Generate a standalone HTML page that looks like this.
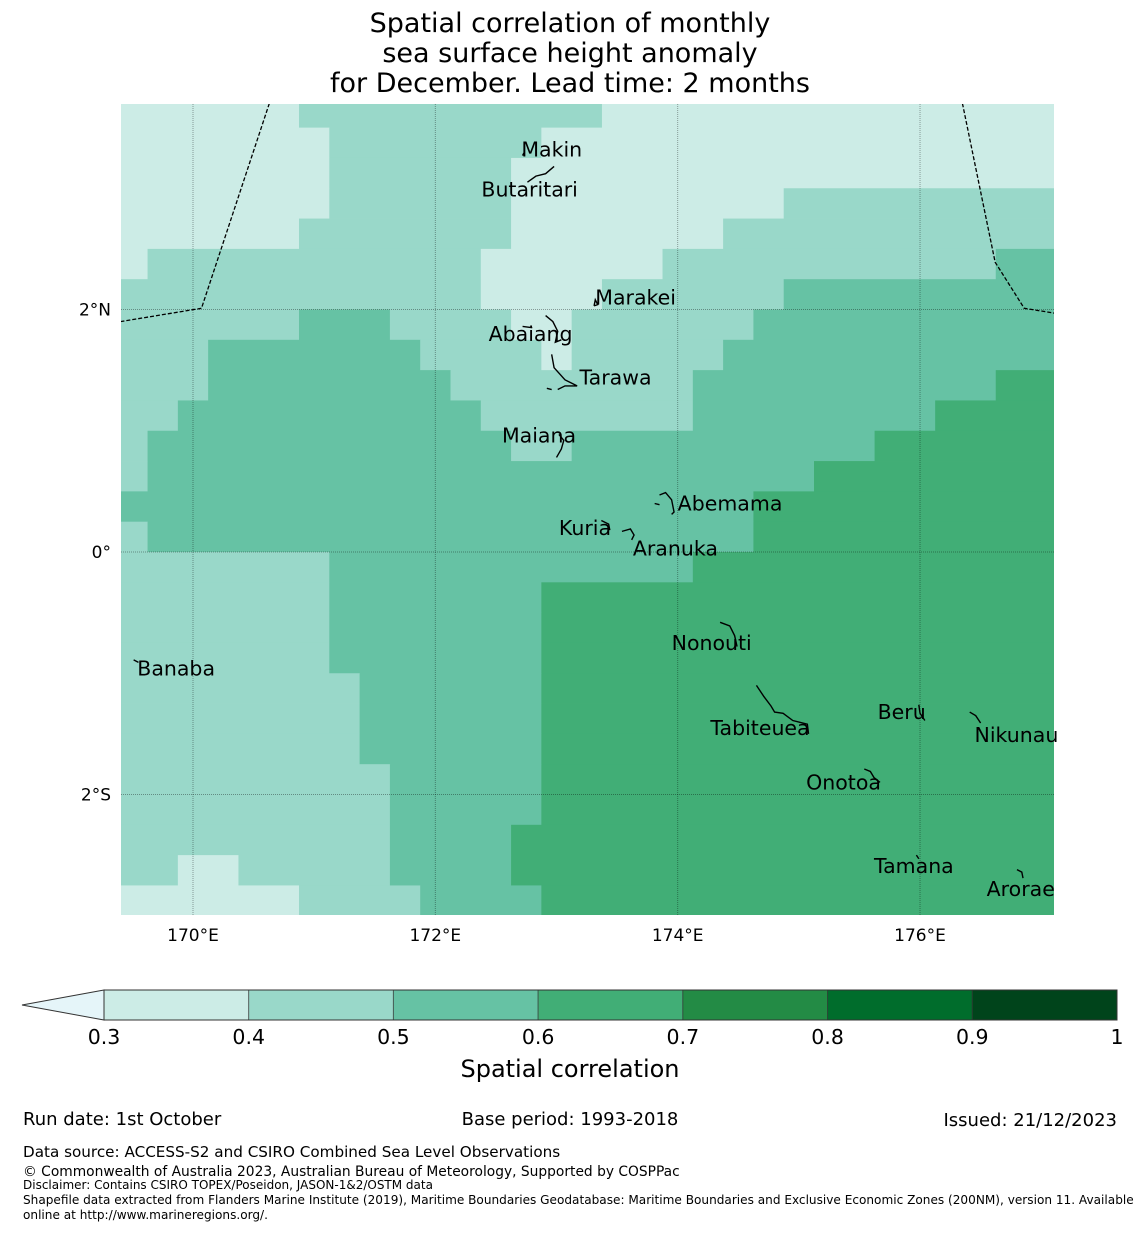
<!DOCTYPE html>
<html><head><meta charset="utf-8">
<style>
html,body{margin:0;padding:0;background:#fff;}
body{width:1140px;height:1230px;overflow:hidden;font-family:"Liberation Sans","DejaVu Sans",sans-serif;}
svg text{font-family:"DejaVu Sans","Liberation Sans",sans-serif;}
</style></head>
<body>
<svg id="chart" width="1140" height="1230" viewBox="0 0 1140 1230" xmlns="http://www.w3.org/2000/svg">
<g font-size="27" text-anchor="middle" fill="#000">
<text x="570" y="32">Spatial correlation of monthly</text>
<text x="570" y="62">sea surface height anomaly</text>
<text x="570" y="92">for December. Lead time: 2 months</text>
</g>
<defs><clipPath id="mapclip"><rect x="121" y="104" width="933" height="811"/></clipPath></defs>
<g id="cells" clip-path="url(#mapclip)"></g>
<g id="grid" clip-path="url(#mapclip)"></g>
<g id="eez" clip-path="url(#mapclip)"></g>
<g id="islands"></g>
<g id="axes"></g>
<g id="cbar"></g>
<g fill="#000">
<text x="23" y="1125" font-size="18">Run date: 1st October</text>
<text x="570" y="1125" font-size="18" text-anchor="middle">Base period: 1993-2018</text>
<text x="1117" y="1126" font-size="18" text-anchor="end">Issued: 21/12/2023</text>
<text x="23" y="1157" font-size="15.2">Data source: ACCESS-S2 and CSIRO Combined Sea Level Observations</text>
<text x="23" y="1176" font-size="13.8">© Commonwealth of Australia 2023, Australian Bureau of Meteorology, Supported by COSPPac</text>
<text x="23" y="1189" font-size="12">Disclaimer: Contains CSIRO TOPEX/Poseidon, JASON-1&amp;2/OSTM data</text>
<text x="23" y="1204" font-size="12.1">Shapefile data extracted from Flanders Marine Institute (2019), Maritime Boundaries Geodatabase: Maritime Boundaries and Exclusive Economic Zones (200NM), version 11. Available</text>
<text x="23" y="1219" font-size="12.1">online at http://www.marineregions.org/.</text>
</g>
</svg>
<script>
// ---- data ----
const lonStart = 169.375;   // west edge of first cell
const latStart = 3.75;      // north edge of first row
const cellSize = 0.25;
// run-length encoded correlation class per row (1:0.3-0.4, 2:0.4-0.5, 3:0.5-0.6, 4:0.6-0.7)
const rowRuns = [
 [[1,6],[2,10],[1,15]],
 [[1,7],[2,7],[1,17]],
 [[1,7],[2,6],[1,18]],
 [[1,7],[2,6],[1,9],[2,9]],
 [[1,6],[2,7],[1,7],[2,11]],
 [[1,1],[2,11],[1,6],[2,11],[3,2]],
 [[2,12],[1,4],[2,6],[3,9]],
 [[2,6],[3,3],[2,4],[1,2],[2,6],[3,10]],
 [[2,3],[3,7],[2,4],[1,1],[2,5],[3,11]],
 [[2,3],[3,8],[2,8],[3,10],[4,2]],
 [[2,2],[3,10],[2,7],[3,8],[4,4]],
 [[2,1],[3,12],[2,2],[3,10],[4,6]],
 [[2,1],[3,22],[4,8]],
 [[3,21],[4,10]],
 [[2,1],[3,20],[4,10]],
 [[2,7],[3,12],[4,12]],
 [[2,7],[3,7],[4,17]],
 [[2,7],[3,7],[4,17]],
 [[2,7],[3,7],[4,17]],
 [[2,8],[3,6],[4,17]],
 [[2,8],[3,6],[4,17]],
 [[2,8],[3,6],[4,17]],
 [[2,9],[3,5],[4,17]],
 [[2,9],[3,5],[4,17]],
 [[2,9],[3,4],[4,18]],
 [[2,2],[1,2],[2,5],[3,4],[4,18]],
 [[1,6],[2,4],[3,4],[4,17]]
];
const levelBounds = [0.3,0.4,0.5,0.6,0.7,0.8,0.9,1];
const levelColors = ["#ccece6","#99d8c9","#66c2a4","#41ae76","#238b45","#006d2c","#00441b"];
const lonTicks = [170,172,174,176];
const lonTickLabels = ["170°E","172°E","174°E","176°E"];
const latTicks = [2,0,-2];
const latTickLabels = ["2°N","0°","2°S"];
const islandNames = ["Makin","Butaritari","Marakei","Abaiang","Tarawa","Maiana","Abemama","Kuria","Aranuka","Banaba","Nonouti","Tabiteuea","Beru","Nikunau","Onotoa","Tamana","Arorae"];
const islandLon = [172.71,172.38,173.32,172.44,173.19,172.55,174.0,173.02,173.63,169.54,173.95,174.27,175.65,176.45,175.06,175.62,176.55];
const islandLat = [3.32,2.99,2.1,1.8,1.44,0.96,0.4,0.2,0.03,-0.96,-0.75,-1.45,-1.32,-1.51,-1.9,-2.59,-2.78];
// coastlines as [lon,lat] polylines
const coasts = [
 [[172.76,3.05],[172.83,3.1],[172.91,3.12],[172.98,3.18]],
 [[172.72,3.27],[172.73,3.29]],
 [[173.31,2.03],[173.32,2.08],[173.34,2.04],[173.31,2.03]],
 [[172.91,1.95],[172.97,1.9],[173.01,1.82],[172.99,1.73],[173.04,1.75]],
 [[172.72,1.86],[172.8,1.85]],
 [[172.96,1.63],[172.98,1.52],[173.07,1.42],[173.17,1.37],[173.07,1.37],[173.01,1.34]],
 [[172.92,1.35],[172.96,1.34]],
 [[173.02,0.97],[173.06,0.92],[173.04,0.85],[173.0,0.78]],
 [[173.85,0.47],[173.9,0.49],[173.95,0.43],[173.97,0.33],[173.95,0.31]],
 [[173.81,0.4],[173.85,0.39]],
 [[173.37,0.26],[173.43,0.23],[173.44,0.18]],
 [[173.54,0.17],[173.61,0.19],[173.64,0.14],[173.62,0.1]],
 [[169.51,-0.89],[169.55,-0.91]],
 [[174.35,-0.58],[174.43,-0.61],[174.47,-0.69],[174.49,-0.78]],
 [[174.65,-1.1],[174.71,-1.19],[174.77,-1.27],[174.8,-1.32],[174.87,-1.33],[174.95,-1.39],[175.07,-1.42],[175.08,-1.5]],
 [[175.99,-1.26],[176.0,-1.33],[176.04,-1.39]],
 [[176.41,-1.32],[176.46,-1.35],[176.5,-1.41]],
 [[175.54,-1.79],[175.59,-1.81],[175.62,-1.86],[175.67,-1.9]],
 [[175.97,-2.5],[175.99,-2.53]],
 [[176.8,-2.62],[176.84,-2.64],[176.85,-2.69]]
];
const eezLines = [
 [[170.63,3.7],[170.07,2.01],[169.4,1.9]],
 [[176.35,3.7],[176.62,2.39],[176.86,2.01],[177.11,1.97]]
];
// ---- axis functions ----
function xOf(lon){ return 193 + (lon-170)*121.17; }
function yOf(lat){ return 552 - lat*121.25; }
const NS="http://www.w3.org/2000/svg";
function mk(tag, attrs, parent){ const e=document.createElementNS(NS,tag); for(const k in attrs) e.setAttribute(k,attrs[k]); parent.appendChild(e); return e; }

const cellsG=document.getElementById('cells');
rowRuns.forEach((runs,r)=>{
  let c=0;
  const latTop=latStart-r*cellSize, latBot=latTop-cellSize;
  runs.forEach(([lvl,n])=>{
    const x0=xOf(lonStart+c*cellSize), x1=xOf(lonStart+(c+n)*cellSize);
    const rect=mk('rect',{x:x0,y:yOf(latTop),width:x1-x0+0.4,height:yOf(latBot)-yOf(latTop)+0.4,fill:levelColors[lvl-1]},cellsG);
    
    
    c+=n;
  });
});
const gridG=document.getElementById('grid');
lonTicks.forEach(l=>{ const ln=mk('line',{x1:xOf(l),x2:xOf(l),y1:104,y2:915,stroke:'#000','stroke-opacity':0.35,'stroke-width':1,'stroke-dasharray':'1,1'},gridG);
  
  });
latTicks.forEach(l=>{ const ln=mk('line',{x1:121,x2:1054,y1:yOf(l),y2:yOf(l),stroke:'#000','stroke-opacity':0.35,'stroke-width':1,'stroke-dasharray':'1,1'},gridG);
  
  });
const eezG=document.getElementById('eez');
eezLines.forEach(pts=>{ const p=mk('polyline',{points:pts.map(q=>xOf(q[0])+','+yOf(q[1])).join(' '),fill:'none',stroke:'#000','stroke-width':1.3,'stroke-dasharray':'4,2'},eezG);
  
  });
const islG=document.getElementById('islands');
coasts.forEach(pts=>{ const p=mk('polyline',{points:pts.map(q=>xOf(q[0])+','+yOf(q[1])).join(' '),fill:'none',stroke:'#000','stroke-width':1.4},islG);
  
  });
islandNames.forEach((n,i)=>{ const t=mk('text',{x:xOf(islandLon[i]),y:yOf(islandLat[i])+7,'font-size':20.5,fill:'#000'},islG); t.textContent=n;
  
  });
const axG=document.getElementById('axes');
lonTicks.forEach((l,i)=>{ const t=mk('text',{x:xOf(l),y:941,'font-size':17,'text-anchor':'middle'},axG); t.textContent=lonTickLabels[i];
  
  });
latTicks.forEach((l,i)=>{ const t=mk('text',{x:111,y:yOf(l)+6,'font-size':17,'text-anchor':'end'},axG); t.textContent=latTickLabels[i];
  
  });
// colorbar
const cbG=document.getElementById('cbar');
function cbX(v){ return 104 + (v-0.3)/0.7*1013; }
const arrow=mk('polygon',{points:'104,990 22,1005 104,1020',fill:'#e5f5f9',stroke:'#333','stroke-width':1},cbG);


levelColors.forEach((col,i)=>{ const r=mk('rect',{x:cbX(levelBounds[i]),y:990,width:cbX(levelBounds[i+1])-cbX(levelBounds[i]),height:30,fill:col,stroke:'#333','stroke-opacity':0.6,'stroke-width':1},cbG);
  
  });
const cbo=mk('rect',{x:104,y:990,width:1013,height:30,fill:'none',stroke:'#333','stroke-width':1},cbG);


levelBounds.forEach(v=>{ const t=mk('text',{x:cbX(v),y:1044,'font-size':20.5,'text-anchor':'middle'},cbG); t.textContent=(v===1?'1':v.toFixed(1));
  
  });
const cbt=mk('text',{x:570,y:1077,'font-size':24,'text-anchor':'middle'},cbG); cbt.textContent='Spatial correlation';


</script>
</body></html>
